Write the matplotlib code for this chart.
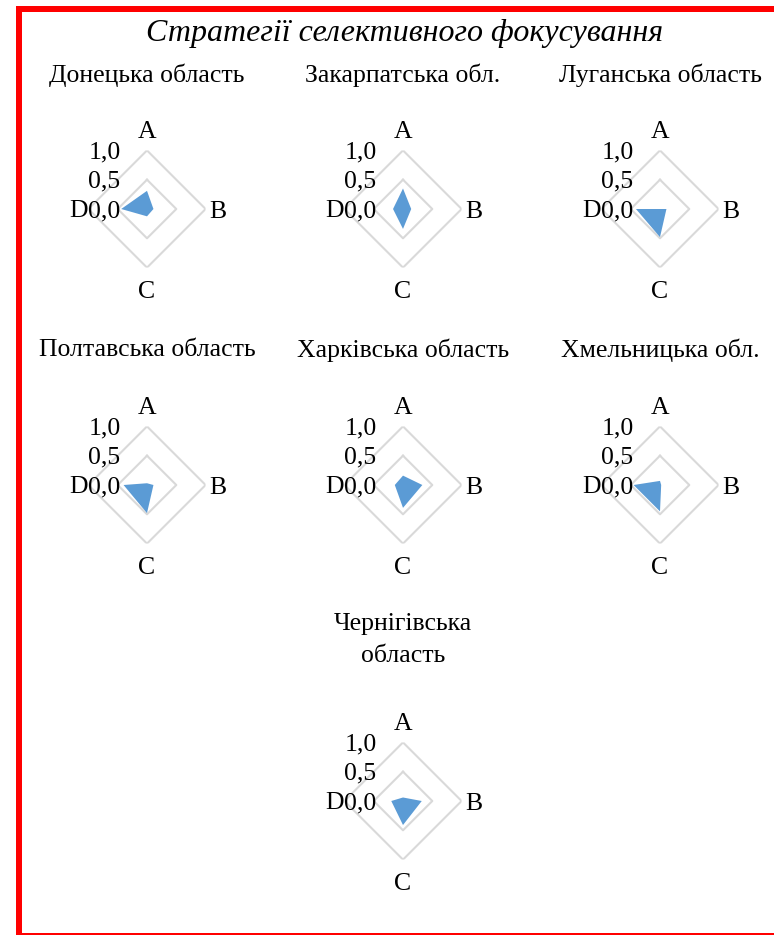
import numpy as np
import matplotlib.pyplot as plt
from matplotlib.patches import Rectangle

plt.rcParams['font.family'] = ['Liberation Serif', 'DejaVu Serif']

title = "Стратегії селективного фокусування"
categories = ["A", "B", "C", "D"]
regions = ["Донецька область", "Закарпатська обл.", "Луганська область",
           "Полтавська область", "Харківська область", "Хмельницька обл.",
           "Чернігівська\nобласть"]
donetska = [0.31, 0.11, 0.125, 0.44]
zakarpatska = [0.35, 0.14, 0.34, 0.17]
luhanska = [0.0, 0.11, 0.48, 0.41]
poltavska = [0.03, 0.11, 0.48, 0.40]
kharkivska = [0.16, 0.33, 0.39, 0.14]
khmelnytska = [0.07, 0.02, 0.45, 0.45]
chernihivska = [0.06, 0.32, 0.41, 0.20]
values = [donetska, zakarpatska, luhanska, poltavska, kharkivska,
          khmelnytska, chernihivska]
rticks = [0.0, 0.5, 1.0]
rtick_labels = ["0,0", "0,5", "1,0"]

W, H = 774, 935
fig = plt.figure(figsize=(W / 100, H / 100), dpi=100)

# chart centres in pixels (from top-left), radius of the 1.0 ring
centres = [(147, 209), (403, 209), (660, 209),
           (147, 485), (403, 485), (660, 485),
           (403, 801)]
title_y = [75, 75, 75, 350, 350, 350, 640]
R = 58.6
fs = 18.5

angles = np.arange(len(categories)) * np.pi / 2
ring = np.append(angles, angles[0])
label_r = [1.31, 1.21, 1.41, 1.3]

for i, (cx, cy) in enumerate(centres):
    ax = fig.add_axes([(cx - R) / W, (H - cy - R) / H, 2 * R / W, 2 * R / H],
                      projection='polar')
    ax.set_theta_zero_location('N')
    ax.set_theta_direction(-1)
    ax.set_ylim(0, 1)
    ax.grid(False)
    ax.spines['polar'].set_visible(False)
    ax.set_xticks([])
    ax.set_yticks([])
    ax.patch.set_alpha(0)

    for r in rticks[1:]:
        ax.plot(ring, [r] * len(ring), color='#d9d9d9', lw=1.5, zorder=1)

    v = values[i]
    ax.fill(ring, v + v[:1], color='#5b9bd5', lw=0, zorder=2)

    for a, c, lr in zip(angles, categories, label_r):
        if c == "D":
            ax.annotate(c, xy=(0, 0), xytext=(-42.5, -1.5), textcoords='offset points',
                        ha='right', va='center', fontsize=fs)
        elif c == "B":
            ax.annotate(c, xy=(a, lr), xytext=(0, -2), textcoords='offset points',
                        ha='center', va='center', fontsize=fs,
                        annotation_clip=False)
        else:
            ax.text(a, lr, c, ha='center', va='center', fontsize=fs)

    for r, lab in zip(rticks, rtick_labels):
        ax.annotate(lab, xy=(0, r), xytext=(-19, -1.5), textcoords='offset points',
                    ha='right', va='center', fontsize=fs, annotation_clip=False)

    fig.text(cx / W, 1 - title_y[i] / H, regions[i], ha='center', va='center',
             fontsize=fs, linespacing=1.62)

fig.text(405 / W, 1 - 33 / H, title, ha='center', va='center',
         fontsize=23, style='italic')

# red frame
fig.add_artist(Rectangle((16 / W, 0), 6 / W, 1 - 6 / H, transform=fig.transFigure,
                         color='red', lw=0))
fig.add_artist(Rectangle((16 / W, 1 - 12 / H), 1 - 16 / W, 6 / H,
                         transform=fig.transFigure, color='red', lw=0))
fig.add_artist(Rectangle((16 / W, 0.5 / H), 1 - 16 / W, 2 / H,
                         transform=fig.transFigure, color='red', lw=0))

fig.savefig("out.png", dpi=100)
